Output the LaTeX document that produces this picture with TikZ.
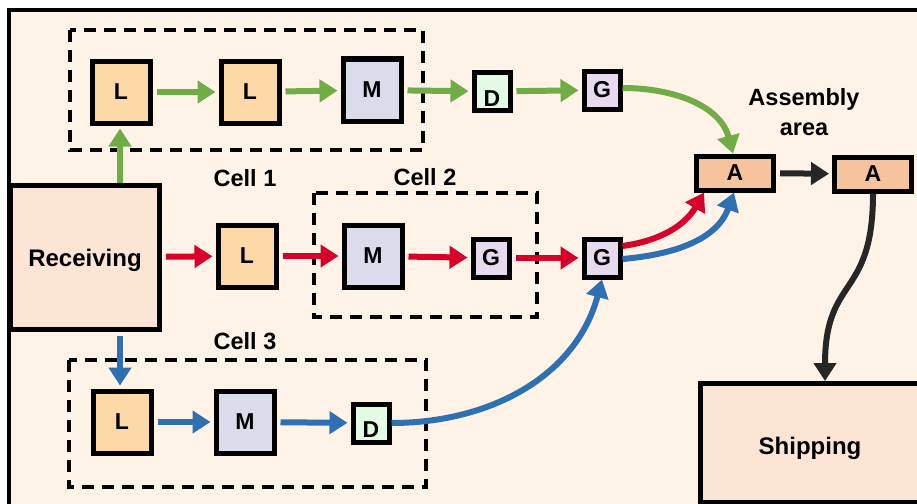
\documentclass[tikz,border=0pt]{standalone}
\usepackage{fontspec}
\setmainfont{Liberation Sans}
\usetikzlibrary{arrows.meta}
\definecolor{cream}{HTML}{FEF3E6}
\definecolor{recv}{HTML}{FDE5D6}
\definecolor{lfill}{HTML}{FDD9A8}
\definecolor{mfill}{HTML}{DADCEC}
\definecolor{dfill}{HTML}{E2FBE2}
\definecolor{gfill}{HTML}{E8DAEE}
\definecolor{afill}{HTML}{F5C49C}
\definecolor{cgreen}{HTML}{70AD47}
\definecolor{cred}{HTML}{D6002A}
\definecolor{cblue}{HTML}{2E70B2}
\definecolor{cblack}{HTML}{262626}
\tikzset{
  box/.style={draw=black, line width=5pt, inner sep=0pt, font=\bfseries\fontsize{23}{26}\selectfont},
  bigbox/.style={box, minimum width=58pt, minimum height=62pt},
  smallbox/.style={box, minimum width=36pt, minimum height=38pt},
  abox/.style={box, fill=afill, minimum width=77pt, minimum height=34pt},
  areabox/.style={box, fill=recv, font=\bfseries\fontsize{24}{27}\selectfont},
  cellbox/.style={draw=black, line width=3.5pt, dash pattern=on 12pt off 8pt},
  lbl/.style={font=\bfseries\fontsize{23.5}{28}\selectfont, inner sep=0pt, align=center},
  flow/.style={line width=6pt, -{Triangle[length=18pt,width=22pt]}, shorten <=4pt, shorten >=3pt},
  gflow/.style={flow, draw=cgreen, color=cgreen},
  rflow/.style={flow, draw=cred, color=cred},
  bflow/.style={flow, draw=cblue, color=cblue},
  kflow/.style={flow, draw=cblack, color=cblack},
}
\begin{document}
\begin{tikzpicture}[x=1pt,y=1pt]
\useasboundingbox (0,0) rectangle (917,-503);
\clip (0,0) rectangle (917,-503);
\fill[white] (0,0) rectangle (917,-503);
\draw[line width=4pt, fill=cream] (9,-10) rectangle (940,-530);
% cells
\draw[cellbox] (70,-30) rectangle (423,-150);
\draw[cellbox] (314,-193) rectangle (537,-317);
\draw[cellbox] (69,-360) rectangle (426,-487);
\node[lbl] (c1) at (245,-178) {Cell 1};
\node[lbl] (c2) at (425,-177) {Cell 2};
\node[lbl] (c3) at (245,-341) {Cell 3};
\node[lbl] (asm) at (804,-112) {Assembly\\[2pt]area};
% nodes
\node[areabox, minimum width=149pt, minimum height=144pt, text depth=0pt] (rec) at (85,-257.5) {Receiving};
\node[areabox, minimum width=219pt, minimum height=119pt, text height=28pt, text depth=5pt] (ship) at (810,-443) {Shipping};
\node[bigbox, fill=lfill] (L1) at (121,-92) {L};
\node[bigbox, fill=lfill] (L2) at (250,-92) {L};
\node[bigbox, fill=mfill] (M1) at (372,-90) {M};
\node[smallbox, fill=dfill, text height=30pt, text depth=0pt] (D1) at (492,-91.5) {D};
\node[smallbox, fill=gfill] (G1) at (602,-90) {G};
\node[bigbox, fill=lfill] (Lm) at (247,-256) {L};
\node[bigbox, fill=mfill] (Mm) at (373,-256) {M};
\node[smallbox, fill=gfill] (Gm1) at (491,-258) {G};
\node[smallbox, fill=gfill] (Gm2) at (602,-258) {G};
\node[bigbox, fill=lfill] (Lb) at (122,-422) {L};
\node[bigbox, fill=mfill] (Mb) at (245,-422) {M};
\node[smallbox, fill=dfill, text height=28pt, text depth=0pt] (Db) at (371,-423) {D};
\node[abox] (A1) at (735,-173) {A};
\node[abox] (A2) at (873,-174) {A};
% green flow
\draw[gflow, shorten <=0pt] ([xshift=-1pt]L1.south |- rec.north) -- ([xshift=-1pt]L1.south);
\draw[gflow] (L1) -- (L2);
\draw[gflow] (L2) -- (M1);
\draw[gflow] (M1) -- (D1);
\draw[gflow] (D1) -- (G1);
\draw[gflow, shorten <=0pt, shorten >=0pt] ([yshift=2pt]G1.east) to[out=0, in=105] ([xshift=-2pt]A1.north);
% red flow
\draw[rflow] (rec) -- (Lm);
\draw[rflow] (Lm) -- (Mm);
\draw[rflow] (Mm) -- (Gm1);
\draw[rflow] (Gm1) -- (Gm2);
\draw[rflow, shorten <=0pt, shorten >=0pt] ([yshift=12pt]Gm2.east) to[out=8, in=240] ([xshift=-31pt]A1.south);
% blue flow
\draw[bflow] ([xshift=-2pt]Lb.north |- rec.south) -- ([xshift=-2pt]Lb.north);
\draw[bflow] (Lb) -- (Mb);
\draw[bflow] (Mb) -- (Db);
\draw[bflow, shorten <=0pt, shorten >=0pt] (Db.east) to[out=0, in=255] (Gm2.south);
\draw[bflow, shorten <=0pt, shorten >=0pt] ([yshift=-1pt]Gm2.east) to[out=5, in=250] ([xshift=-1pt]A1.south);
% black flow
\draw[kflow] (A1) -- (A2);
\draw[kflow, shorten <=0pt, shorten >=0pt] (A2.south) to[out=-90, in=90, looseness=1.4] ([xshift=15pt]ship.north);
\end{tikzpicture}
\end{document}
